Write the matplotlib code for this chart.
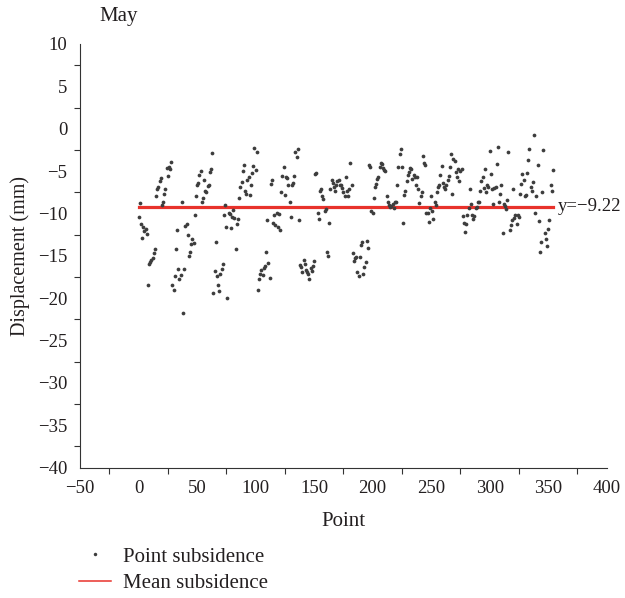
from matplotlib import pyplot as plt
from matplotlib.lines import Line2D
from matplotlib.ticker import MultipleLocator
import numpy as np

plt.rcParams['font.family'] = ['Liberation Serif', 'DejaVu Serif']

TEXT_COLOR = '#231f20'
DOT_COLOR = '#3d3d3d'
LINE_COLOR = '#e8322b'

# subsidence per point (mm) in order of point number
subsidence = [
    # points 0-52
    -10.4, -8.8, -11.3, -12.9, -11.6, -12.1, -11.8, -12.4, -18.4, -16.0,
    -15.7, -15.5, -15.3, -14.7, -14.2, -8.0, -7.1, -6.9, -6.2, -5.8,
    -8.95, -8.7, -7.7, -7.1, -4.6, -5.6, -4.5, -4.7, -3.9, -18.4,
    -19.0, -17.4, -14.2, -12.0, -16.6, -17.7, -17.3, -8.7, -21.8, -16.6,
    -11.5, -11.2, -12.5, -15.0, -14.5, -13.6, -13.0, -13.5, -10.2, -7.9,
    -6.7, -6.4, -5.5,
    # points 53-112
    -5.0, -8.6, -8.2, -6.1, -7.3, -7.5, -6.8, -6.7, -5.1, -4.8,
    -2.9, -19.4, -16.8, -13.4, -17.4, -18.4, -19.2, -17.2, -16.6, -16.0,
    -10.2, -9.0, -11.6, -20.0, -9.9, -10.1, -11.7, -10.4, -9.6, -10.6,
    -14.2, -11.2, -10.7, -8.2, -6.9, -6.3, -5.0, -4.3, -7.4, -7.7,
    -6.0, -5.7, -7.8, -6.7, -5.2, -4.4, -2.3, -4.9, -2.8, -19.0,
    -17.8, -17.2, -16.7, -17.3, -16.4, -16.2, -14.5, -10.8, -15.9, -17.6,
    # points 113-172
    -6.5, -6.1, -11.1, -10.2, -11.4, -9.9, -11.6, -10.1, -12.0, -7.5,
    -5.6, -4.5, -7.8, -5.7, -5.8, -6.6, -8.7, -10.4, -6.6, -6.4,
    -5.6, -2.7, -3.4, -2.4, -10.8, -16.1, -16.3, -16.9, -15.5, -16.0,
    -16.7, -16.9, -17.2, -17.8, -16.4, -16.8, -16.2, -15.6, -5.4, -5.2,
    -9.9, -10.7, -7.4, -7.1, -7.9, -8.3, -9.7, -9.5, -14.5, -15.0,
    -11.1, -7.1, -6.1, -6.4, -6.9, -7.4, -6.6, -6.2, -6.0, -6.7,
    # points 173-232
    -6.6, -7.0, -7.5, -7.9, -5.7, -7.3, -8.0, -7.1, -4.0, -6.6,
    -14.7, -15.6, -15.3, -15.2, -16.9, -17.4, -15.2, -13.7, -13.4, -17.2,
    -16.3, -15.7, -13.3, -14.1, -4.3, -4.5, -9.7, -9.9, -8.2, -6.9,
    -6.5, -5.9, -5.7, -4.5, -4.0, -4.2, -4.6, -4.9, -5.0, -8.0,
    -8.7, -9.0, -9.2, -9.1, -8.9, -9.4, -8.7, -8.6, -6.7, -4.5,
    -3.0, -2.4, -4.5, -11.1, -7.8, -7.4, -6.2, -5.5, -5.1, -4.6,
    # points 233-292
    -4.7, -5.9, -5.5, -5.7, -6.7, -5.7, -7.1, -8.8, -8.0, -7.5,
    -3.2, -4.0, -4.3, -9.9, -9.9, -11.0, -9.4, -7.9, -9.7, -10.7,
    -8.6, -9.0, -7.5, -6.9, -6.6, -5.5, -4.4, -6.4, -6.9, -7.1,
    -6.7, -6.1, -5.6, -4.5, -3.0, -7.7, -3.6, -3.8, -5.1, -5.7,
    -4.8, -6.2, -5.0, -4.7, -10.3, -11.1, -12.2, -11.3, -10.2, -9.4,
    -7.1, -8.9, -10.2, -10.7, -10.3, -9.4, -9.3, -8.7, -8.6, -7.3,
    # points 293-354
    -6.2, -5.7, -7.0, -4.7, -7.5, -6.7, -6.9, -2.6, -5.4, -7.1,
    -8.9, -7.0, -6.9, -4.2, -2.2, -8.6, -7.7, -6.7, -12.3, -8.9,
    -9.1, -9.5, -8.4, -2.8, -12.0, -11.4, -10.8, -7.1, -10.5, -10.2,
    -11.2, -10.2, -10.4, -7.7, -6.5, -5.3, -6.1, -7.9, -7.8, -5.2,
    -3.7, -2.4, -6.9, -7.4, -6.3, -0.8, -9.9, -8.0, -4.3, -10.9,
    -14.5, -13.4, -7.5, -2.5, -12.3, -13.0, -13.8, -11.8, -10.8, -6.7,
    -7.3, -4.9,
]
MEAN_SUBSIDENCE = -9.22

x_ticks = [-50, 0, 50, 100, 150, 200, 250, 300, 350, 400]
y_ticks = [10, 5, 0, -5, -10, -15, -20, -25, -30, -35, -40]

points = np.arange(len(subsidence))

fig = plt.figure(figsize=(6.25, 5.98), dpi=100)
ax = fig.add_axes([80 / 625, 1 - 467.5 / 598, 526.7 / 625, 423.5 / 598])

ax.plot(points, subsidence, 'o', color=DOT_COLOR, markersize=2.7,
        markeredgewidth=0, zorder=3)
ax.plot([points[0], points[-1]], [MEAN_SUBSIDENCE, MEAN_SUBSIDENCE],
        color=LINE_COLOR, linewidth=2.3, zorder=2)
ax.text(points[-1] + 4.5, MEAN_SUBSIDENCE, 'y=\u2212{:.2f}'.format(-MEAN_SUBSIDENCE),
        ha='left', va='center', fontsize=13.5, color=TEXT_COLOR)

ax.set_xlim(x_ticks[0], x_ticks[-1])
ax.set_ylim(y_ticks[-1], y_ticks[0])
ax.set_xticks(x_ticks)
ax.set_yticks(y_ticks)
ax.set_xticklabels([str(v).replace('-', '\u2212') for v in x_ticks])
ax.set_yticklabels([str(v).replace('-', '\u2212') for v in y_ticks])
# tick marks sit halfway between the labels
ax.xaxis.set_minor_locator(MultipleLocator(50, offset=25))
ax.yaxis.set_minor_locator(MultipleLocator(5, offset=2.5))
ax.tick_params(which='major', length=0, pad=9, labelsize=13.5,
               labelcolor=TEXT_COLOR)
ax.tick_params(which='minor', length=4, width=0.8, color='#333333',
               direction='out')

for side in ['top', 'right']:
    ax.spines[side].set_visible(False)
for side in ['left', 'bottom']:
    ax.spines[side].set_linewidth(0.8)
    ax.spines[side].set_color('#333333')

ax.set_xlabel('Point', fontsize=15, color=TEXT_COLOR, labelpad=11)
ax.set_ylabel('Displacement (mm)', fontsize=14.5, color=TEXT_COLOR, labelpad=6)
fig.text(119 / 625, 1 - 17 / 598, 'May', ha='center', va='center',
         fontsize=15, color=TEXT_COLOR)

handles = [
    Line2D([], [], marker='o', linestyle='none', color=DOT_COLOR,
           markersize=2.5, markeredgewidth=0),
    Line2D([], [], color=LINE_COLOR, linewidth=1.1),
]
fig.legend(handles, ['Point subsidence', 'Mean subsidence'],
           loc='upper left', bbox_to_anchor=(79 / 625, 1 - 547 / 598),
           frameon=False, fontsize=15, handlelength=1.55,
           handletextpad=0.55, labelspacing=0.35, borderpad=0,
           borderaxespad=0, labelcolor=TEXT_COLOR)

plt.savefig('out.png', dpi=100)
